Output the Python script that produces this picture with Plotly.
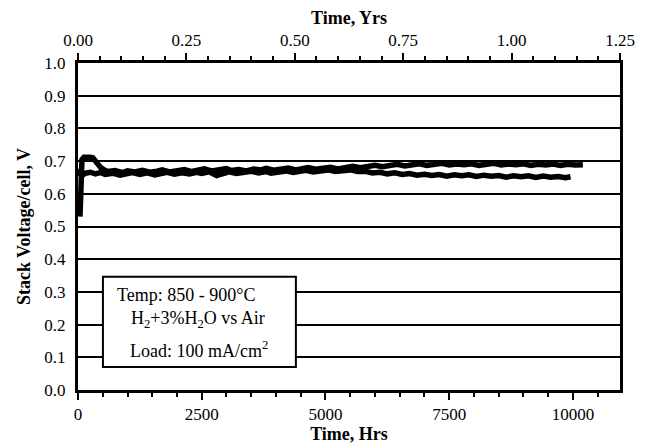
import plotly.graph_objects as go

# Stack A: starts low, loops up to ~0.71, ends high (~0.69)
hours_a = [40, 50, 60, 70, 80, 120, 180, 240, 300, 350, 400, 460, 520,
           600, 750, 900, 1000, 1150, 1300, 1450, 1600, 1700, 1850,
           2000, 2150, 2300, 2400, 2550, 2700, 2850, 3000, 3100, 3250,
           3400, 3550, 3700, 3800, 3950, 4100, 4250, 4400, 4500, 4650,
           4800, 4950, 5100, 5250, 5400, 5550, 5700, 5850, 6000, 6150,
           6300, 6450, 6600, 6750, 6900, 7050, 7200, 7350, 7500, 7650,
           7800, 7950, 8100, 8250, 8400, 8550, 8700, 8850, 9000, 9150,
           9300, 9450, 9600, 9750, 9900, 10050, 10200]
volts_a = [0.530, 0.560, 0.610, 0.660, 0.705, 0.712, 0.713, 0.712, 0.710, 0.700, 0.688, 0.680, 0.674,
           0.668, 0.671, 0.665, 0.670, 0.667, 0.672, 0.666, 0.669, 0.673, 0.667,
           0.671, 0.674, 0.668, 0.672, 0.676, 0.670, 0.673, 0.677, 0.671, 0.674,
           0.670, 0.676, 0.673, 0.678, 0.672, 0.675, 0.679, 0.673, 0.677, 0.680,
           0.675, 0.678, 0.681, 0.676, 0.680, 0.684, 0.680, 0.684, 0.687, 0.683,
           0.687, 0.690, 0.685, 0.689, 0.692, 0.687, 0.690, 0.693, 0.688, 0.691,
           0.689, 0.692, 0.687, 0.690, 0.693, 0.688, 0.691, 0.689, 0.692, 0.687,
           0.690, 0.688, 0.691, 0.687, 0.690, 0.688, 0.689]

# Stack B: flat start near 0.66, drifts down to ~0.65 at the end
hours_b = [0, 30, 80, 150, 250, 350, 450, 550, 700, 850,
           1000, 1100, 1250, 1400, 1550, 1700, 1800, 1950, 2100, 2250,
           2400, 2500, 2650, 2800, 2950, 3050, 3200, 3350, 3500, 3650,
           3800, 3900, 4050, 4200, 4350, 4500, 4600, 4750, 4900, 5050,
           5200, 5350, 5500, 5650, 5800, 5950, 6100, 6250, 6400, 6550,
           6700, 6850, 7000, 7150, 7300, 7450, 7600, 7750, 7900, 8050,
           8200, 8350, 8500, 8650, 8800, 8950, 9100, 9250, 9400, 9550,
           9700, 9850, 9950]
volts_b = [0.676, 0.663, 0.656, 0.663, 0.666, 0.661, 0.665, 0.659, 0.663, 0.657,
           0.662, 0.665, 0.659, 0.664, 0.658, 0.662, 0.666, 0.660, 0.664, 0.661,
           0.666, 0.662, 0.667, 0.656, 0.663, 0.667, 0.662, 0.666, 0.669, 0.664,
           0.668, 0.663, 0.667, 0.670, 0.665, 0.669, 0.672, 0.667, 0.670, 0.673,
           0.668, 0.671, 0.673, 0.668, 0.669, 0.664, 0.666, 0.661, 0.664, 0.659,
           0.662, 0.657, 0.660, 0.656, 0.659, 0.654, 0.658, 0.655, 0.658, 0.653,
           0.657, 0.654, 0.656, 0.651, 0.655, 0.652, 0.655, 0.650, 0.654, 0.651,
           0.653, 0.649, 0.652]

yr_ticks = [0.0, 0.25, 0.5, 0.75, 1.0, 1.25]
hr_ticks = [0, 2500, 5000, 7500, 10000]
v_ticks = [0.0, 0.1, 0.2, 0.3, 0.4, 0.5, 0.6, 0.7, 0.8, 0.9, 1.0]

FONT = "Liberation Serif"

fig = go.Figure()
fig.add_trace(go.Scatter(x=hours_a, y=volts_a, mode="lines",
                         line=dict(color="black", width=5.5), showlegend=False))
fig.add_trace(go.Scatter(x=hours_b, y=volts_b, mode="lines",
                         line=dict(color="black", width=5.5), showlegend=False))
# dummy trace so the top (years) axis is drawn
fig.add_trace(go.Scatter(x=[0], y=[0], xaxis="x2", mode="markers",
                         marker=dict(opacity=0), showlegend=False, hoverinfo="skip"))

fig.update_layout(
    width=647, height=445,
    margin=dict(l=78, r=27, t=63, b=55),
    paper_bgcolor="white", plot_bgcolor="white",
    font=dict(family=FONT, size=17, color="black"),
    xaxis=dict(
        range=[0, 10950], tickvals=hr_ticks, ticktext=[str(v) for v in hr_ticks],
        ticks="outside", ticklen=7, tickwidth=2, tickcolor="black",
        minor=dict(dtick=500, ticks="outside", ticklen=4, tickwidth=2, tickcolor="black"),
        showline=True, linewidth=3, linecolor="black", showgrid=False, zeroline=False,
        automargin=False,
        title=dict(text="<b>Time, Hrs</b>", font=dict(size=18), standoff=2),
    ),
    xaxis2=dict(
        range=[0, 1.25], overlaying="x", side="top", anchor="y",
        tickvals=yr_ticks, ticktext=[f"{v:.2f}" for v in yr_ticks],
        ticks="outside", ticklen=7, tickwidth=2, tickcolor="black",
        minor=dict(dtick=0.05, ticks="outside", ticklen=4, tickwidth=2, tickcolor="black"),
        showline=True, linewidth=3, linecolor="black", showgrid=False, zeroline=False,
        automargin=False,
        title=dict(text="<b>Time, Yrs</b>", font=dict(size=18), standoff=2),
    ),
    yaxis=dict(
        range=[0, 1.0], tickvals=v_ticks, ticktext=[f"{v:.1f}" for v in v_ticks],
        ticks="", showline=True, linewidth=3, linecolor="black", mirror=True,
        showgrid=True, gridcolor="black", gridwidth=2, zeroline=False,
        ticklabelstandoff=6, automargin=False,
        title=dict(text="<b>Stack Voltage/cell, V</b>", font=dict(size=18), standoff=10),
    ),
)

# condition box
fig.add_shape(type="rect", xref="paper", yref="paper",
              x0=0.046, x1=0.402, y0=0.070, y1=0.346,
              line=dict(color="black", width=2), fillcolor="white", layer="above")
box_lines = [
    ("Temp: 850 - 900°C", 0.200, 0.290),
    ("H<sub>2</sub>+3%H<sub>2</sub>O vs Air", 0.222, 0.217),
    ("Load: 100 mA/cm<sup>2</sup>", 0.223, 0.125),
]
for txt, xx, yy in box_lines:
    fig.add_annotation(text=txt, xref="paper", yref="paper", x=xx, y=yy,
                       xanchor="center", yanchor="middle", showarrow=False,
                       font=dict(family=FONT, size=18, color="black"))

# the page body has a default 8px margin; drop it so the figure sits at 0,0
fig.write_html("out.html", config={"displayModeBar": False},
               post_script="document.body.style.margin='0';")
